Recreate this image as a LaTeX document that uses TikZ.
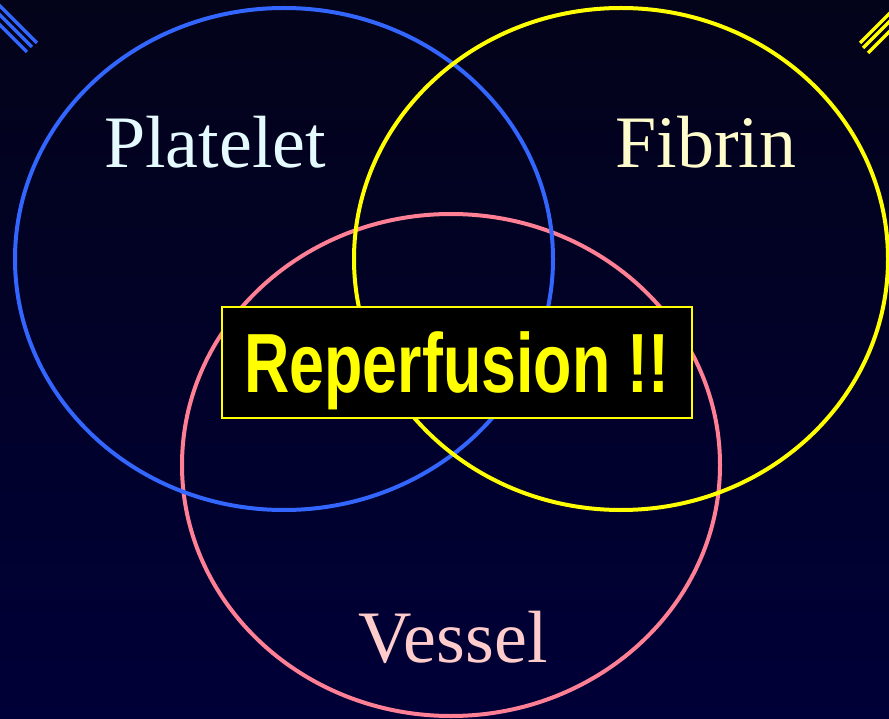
\documentclass[tikz,border=0pt]{standalone}
\usepackage{fontspec}
\setmainfont{Liberation Serif}
\newfontfamily\boxfont{Liberation Sans}
\usepackage{tikz}
\usetikzlibrary{positioning}

\definecolor{bgtop}{HTML}{03031A}
\definecolor{bgbot}{HTML}{000038}
\definecolor{plateletblue}{HTML}{3366FF}
\definecolor{fibrinyellow}{HTML}{FFFF00}
\definecolor{vesselpink}{HTML}{FF7F95}

\begin{document}
\begin{tikzpicture}[
    x=1pt, y=-1pt,
    ring/.style={line width=4pt},
    label/.style={anchor=base, font=\fontsize{74}{80}\selectfont},
    stripe/.style={line width=3.5pt}
]
\useasboundingbox (0,0) rectangle (889,719);
\shade[top color=bgtop, bottom color=bgbot] (0,0) rectangle (889,719);

% corner stripes
\foreach \o/\e in {6/37,15/32,25/27}
  \draw[stripe, plateletblue] (-5,\o-5) -- (\e,\e+\o);
\foreach \c/\e in {903/860,911/863,921/868}
  \draw[stripe, fibrinyellow] (894,\c-894) -- (\e,\c-\e);

% the three sets
\draw[ring, vesselpink] (451,465) ellipse [x radius=269, y radius=251];
\draw[ring, plateletblue] (284,259) ellipse [x radius=269, y radius=251];
\draw[ring, fibrinyellow] (621,259) ellipse [x radius=267, y radius=251];

\node[label, text=blue!20!cyan!10] (platelet) at (215,168) {Platelet};
\node[label, text=yellow!20] (fibrin) at (706,168) {Fibrin};
\node[label, text=pink!80!white] (vessel) at (453,662) {Vessel};

% centre box
\node[draw=fibrinyellow, line width=1.5pt, fill=black, text=fibrinyellow,
      minimum width=470pt, minimum height=111pt, text height=60pt, text depth=0pt,
      font=\boxfont\bfseries\fontsize{84}{90}\selectfont] (reperfusion) at (457,362.5)
      {\scalebox{0.747}[1]{Reperfusion !!}};
\end{tikzpicture}
\end{document}
